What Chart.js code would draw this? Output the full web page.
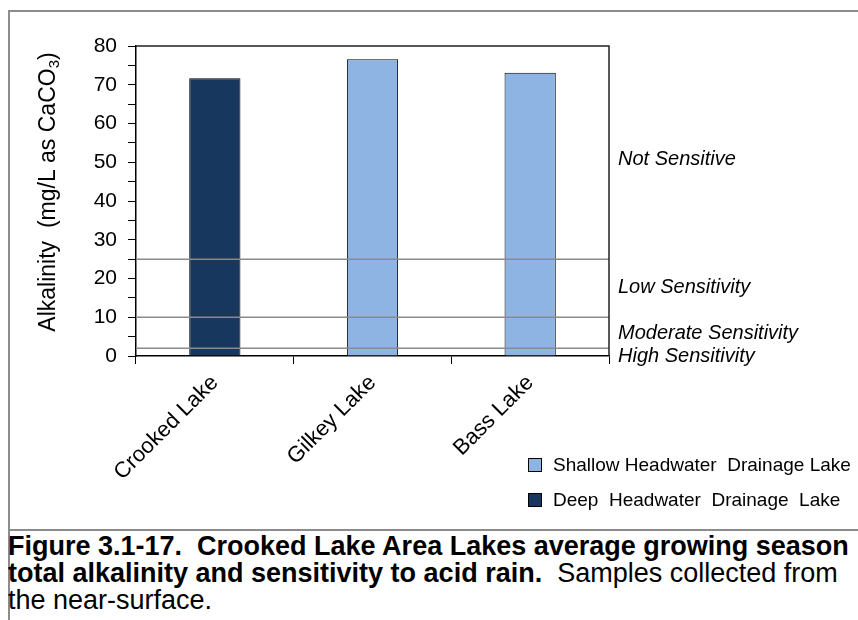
<!DOCTYPE html>
<html>
<head>
<meta charset="utf-8">
<script src="https://cdn.jsdelivr.net/npm/chart.js@4.4.0/dist/chart.umd.min.js"></script>
<style>
  body { margin: 0; background: #fff; font-family: "Liberation Sans", Arial, sans-serif; }
  #wrap { position: relative; width: 858px; height: 620px; overflow: hidden; }
  #chart { position: absolute; left: 0; top: 0; }
  .frame { position: absolute; left: 8px; top: 10px; width: 900px; height: 517px; border: 2px solid #8c8c8c; }
  .capline { position: absolute; left: 8px; top: 528px; width: 2px; height: 100px; background: #8c8c8c; }
  #legend { position: absolute; left: 528px; top: 447px; font-size: 19px; color: #000; }
  .item { display: flex; align-items: center; height: 35px; white-space: pre; }
  .swatch { width: 14px; height: 14px; border: 1px solid #000; box-sizing: border-box; margin-right: 11px; }
  #caption { position: absolute; left: 8px; top: 533px; font-size: 27px; line-height: 27px; white-space: pre; color: #000; }
</style>
</head>
<body>
<div id="wrap">
  <div class="frame"></div>
  <div class="capline"></div>
  <canvas id="chart" width="858" height="530"></canvas>
  <div id="legend"></div>
  <div id="caption"><b>Figure 3.1-17.  Crooked Lake Area Lakes average growing season</b>
<b>total alkalinity and sensitivity to acid rain.</b>  Samples collected from
the near-surface.</div>
</div>
<script>
const lakes = ['Crooked Lake', 'Gilkey Lake', 'Bass Lake'];
const shallowLake = [null, 76.6, 73.1];
const deepLake = [71.7, null, null];
const seriesNames = ['Shallow Headwater  Drainage Lake', 'Deep  Headwater  Drainage  Lake'];
const seriesColors = ['#8db4e2', '#17375e'];
const yTicks = [0, 10, 20, 30, 40, 50, 60, 70, 80];
const sensitivityLimits = [25, 10, 2];
const zoneNames = ['Not Sensitive', 'Low Sensitivity', 'Moderate Sensitivity', 'High Sensitivity'];
const zoneLabelAt = [50.8, 17.6, 5.7, -0.2];

const fontFamily = '"Liberation Sans", Arial, sans-serif';
Chart.defaults.font.family = fontFamily;
Chart.defaults.color = '#000';

// threshold lines, plot box, zone names and the y title
const extras = {
  id: 'extras',
  afterDatasetsDraw(chart) {
    const { ctx, chartArea: a, scales: { y } } = chart;
    ctx.save();
    ctx.strokeStyle = '#8a8a8a';
    ctx.lineWidth = 1.5;
    sensitivityLimits.forEach(v => {
      const py = y.getPixelForValue(v);
      ctx.beginPath();
      ctx.moveTo(a.left, py);
      ctx.lineTo(a.right, py);
      ctx.stroke();
    });
    ctx.strokeStyle = '#222';
    ctx.beginPath();
    ctx.moveTo(a.left, a.top);
    ctx.lineTo(a.right, a.top);
    ctx.lineTo(a.right, a.bottom);
    ctx.stroke();

    ctx.fillStyle = '#000';
    ctx.font = 'italic 20px ' + fontFamily;
    ctx.textBaseline = 'middle';
    ctx.textAlign = 'left';
    zoneNames.forEach((n, i) => ctx.fillText(n, a.right + 9, y.getPixelForValue(zoneLabelAt[i])));

    // y axis title with subscript
    const main = 'Alkalinity  (mg/L as CaCO', sub = '3', end = ')';
    ctx.translate(49, 192);
    ctx.rotate(-Math.PI / 2);
    ctx.font = '23px ' + fontFamily;
    const w1 = ctx.measureText(main).width, w3 = ctx.measureText(end).width;
    ctx.font = '15px ' + fontFamily;
    const w2 = ctx.measureText(sub).width;
    let x = -(w1 + w2 + w3) / 2;
    ctx.font = '23px ' + fontFamily;
    ctx.fillText(main, x, 0);
    ctx.font = '15px ' + fontFamily;
    ctx.fillText(sub, x + w1, 6);
    ctx.font = '23px ' + fontFamily;
    ctx.fillText(end, x + w1 + w2, 0);
    ctx.restore();
  }
};

const chart = new Chart(document.getElementById('chart'), {
  type: 'bar',
  data: {
    labels: lakes,
    datasets: [
      { label: seriesNames[0], data: shallowLake, backgroundColor: seriesColors[0] },
      { label: seriesNames[1], data: deepLake, backgroundColor: seriesColors[1] }
    ]
  },
  options: {
    responsive: false,
    animation: false,
    devicePixelRatio: 1,
    layout: { padding: { left: 0, top: 46, right: 249, bottom: 0 } },
    datasets: {
      bar: { grouped: false, barPercentage: 0.325, categoryPercentage: 1, borderColor: '#000', borderWidth: 1 }
    },
    plugins: { legend: { display: false }, tooltip: { enabled: false } },
    scales: {
      x: {
        afterFit: s => { s.height = 174; },
        ticks: { minRotation: 45, maxRotation: 45, padding: 6, autoSkip: false, font: { size: 22 } },
        grid: { offset: true, drawOnChartArea: false, tickLength: 8, color: '#000' },
        border: { color: '#000', width: 1.5 }
      },
      y: {
        min: 0,
        max: 80,
        afterFit: s => { s.width = 136; },
        ticks: {
          stepSize: 5, autoSkip: false, padding: 11, font: { size: 21 },
          callback: v => yTicks.includes(v) ? String(v) : ''
        },
        grid: { drawOnChartArea: false, tickLength: 8, color: '#000' },
        border: { color: '#000', width: 1.5 }
      }
    }
  },
  plugins: [extras]
});

// legend: shallow first, then deep
const legend = document.getElementById('legend');
chart.data.datasets.forEach(ds => {
  const item = document.createElement('div');
  item.className = 'item';
  item.innerHTML = '<span class="swatch" style="background:' + ds.backgroundColor + '"></span>' + ds.label;
  legend.appendChild(item);
});
</script>
</body>
</html>
